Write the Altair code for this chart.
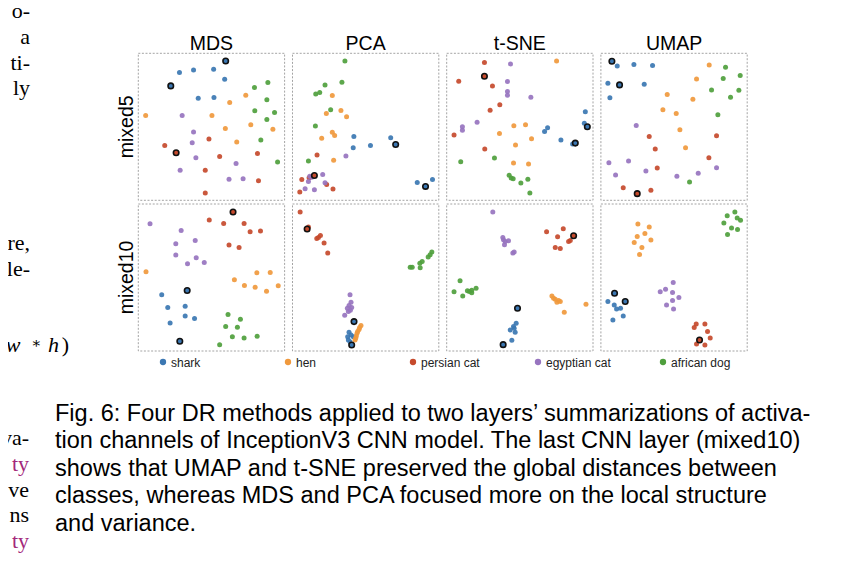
import altair as alt
import pandas as pd

# ---------------- data ----------------
CLASSES = ["shark", "hen", "persian cat", "egyptian cat", "african dog"]
COLORS = ["#3b77b2", "#f0993d", "#c64a2c", "#9774bf", "#4f9f3d"]
METHODS = ["MDS", "PCA", "t-SNE", "UMAP"]
LAYERS = ["mixed5", "mixed10"]

# embedding coordinates (arbitrary units, y grows downward) per class
MDS_MIXED5 = {
    "shark": [(148, 128), (190, 120), (250, 118), (283, 148), (204, 205), (251, 203)],
    "hen": [(47, 257), (245, 257), (298, 218), (346, 196), (285, 296), (361, 285), (319, 337), (427, 298)],
    "persian cat": [(104, 347), (236, 328), (268, 380), (225, 422), (381, 371), (384, 453), (225, 490)],
    "egyptian cat": [(156, 257), (190, 307), (186, 339), (197, 384), (150, 422), (317, 401), (296, 449), (338, 447)],
    "african dog": [(372, 173), (412, 158), (409, 210), (373, 243), (432, 248), (409, 269), (391, 331), (441, 397)],
}
MDS_MIXED5_HL = [("shark", 286, 93), ("shark", 122, 168), ("persian cat", 138, 369)]

PCA_MIXED5 = {
    "shark": [(207, 322), (205, 356), (257, 349), (318, 326), (398, 461), (444, 452)],
    "hen": [(142, 198), (168, 243), (124, 252), (185, 262), (142, 309), (149, 319), (110, 327), (146, 394)],
    "persian cat": [(96, 378), (50, 452), (44, 490), (125, 467), (144, 481), (72, 447)],
    "egyptian cat": [(183, 381), (113, 437), (74, 442), (70, 458), (120, 462), (60, 480), (88, 483), (80, 445)],
    "african dog": [(180, 93), (171, 158), (120, 166), (104, 189), (92, 193), (137, 241), (91, 290), (70, 396)],
}
PCA_MIXED5_HL = [("shark", 333, 346), ("shark", 423, 473), ("persian cat", 88, 440)]

TSNE_MIXED5 = {
    "shark": [(435, 246), (432, 280), (322, 294), (313, 305), (362, 331), (397, 343)],
    "hen": [(349, 93), (221, 288), (256, 285), (178, 311), (274, 327), (226, 346), (220, 400), (265, 403)],
    "persian cat": [(133, 98), (56, 154), (157, 168), (179, 225), (150, 241), (42, 316), (134, 358)],
    "egyptian cat": [(211, 102), (202, 155), (202, 185), (202, 196), (272, 202), (111, 277), (67, 291), (67, 301)],
    "african dog": [(62, 396), (163, 385), (207, 437), (213, 445), (219, 447), (242, 460), (263, 449), (269, 490)],
}
TSNE_MIXED5_HL = [("shark", 441, 291), ("shark", 405, 340), ("persian cat", 133, 139)]

UMAP_MIXED5 = {
    "shark": [(67, 108), (117, 104), (173, 107), (39, 160), (148, 163), (45, 204)],
    "hen": [(343, 105), (305, 147), (217, 194), (294, 208), (204, 240), (244, 251), (255, 300), (272, 354)],
    "persian cat": [(163, 320), (181, 358), (365, 318), (342, 384), (187, 415), (85, 474), (168, 482)],
    "egyptian cat": [(124, 287), (42, 399), (101, 394), (62, 436), (153, 424), (246, 440), (310, 431), (365, 414)],
    "african dog": [(392, 112), (436, 137), (385, 146), (350, 180), (432, 181), (407, 202), (369, 255), (284, 457)],
}
UMAP_MIXED5_HL = [("shark", 51, 94), ("shark", 74, 165), ("persian cat", 127, 492)]

MDS_MIXED10 = {
    "shark": [(95, 290), (113, 328), (165, 324), (165, 353), (193, 361), (120, 374)],
    "hen": [(48, 221), (312, 245), (379, 224), (419, 223), (342, 262), (374, 267), (443, 263), (408, 279)],
    "persian cat": [(237, 66), (280, 76), (341, 76), (359, 101), (390, 99), (296, 141), (326, 148)],
    "egyptian cat": [(60, 77), (153, 97), (195, 127), (137, 137), (137, 171), (198, 179), (172, 197), (222, 193)],
    "african dog": [(293, 349), (330, 363), (286, 385), (321, 387), (306, 415), (341, 419), (380, 414), (268, 439)],
}
MDS_MIXED10_HL = [("shark", 171, 277), ("shark", 149, 429), ("persian cat", 308, 42)]

PCA_MIXED10 = {
    "shark": [(192, 402), (188, 415), (198, 410), (205, 415), (190, 425), (195, 430)],
    "hen": [(228, 382), (224, 388), (222, 394), (218, 400), (216, 405), (214, 413), (212, 420), (210, 425)],
    "persian cat": [(45, 42), (70, 87), (95, 121), (100, 118), (106, 112), (117, 135), (128, 165)],
    "egyptian cat": [(195, 290), (198, 312), (200, 328), (192, 322), (187, 330), (196, 336), (190, 340), (179, 351)],
    "african dog": [(441, 162), (436, 170), (430, 177), (412, 190), (405, 195), (382, 207), (376, 207), (406, 209)],
}
PCA_MIXED10_HL = [("shark", 207, 370), ("shark", 200, 440), ("persian cat", 66, 93)]

TSNE_MIXED10 = {
    "shark": [(228, 375), (222, 390), (220, 385), (210, 395), (225, 402), (215, 426)],
    "hen": [(335, 293), (340, 300), (345, 303), (350, 312), (355, 307), (360, 310), (437, 318), (372, 342)],
    "persian cat": [(319, 101), (369, 92), (352, 116), (390, 127), (385, 130), (345, 148), (360, 151)],
    "egyptian cat": [(158, 42), (188, 118), (190, 125), (205, 128), (195, 130), (193, 140), (218, 165), (222, 162)],
    "african dog": [(60, 248), (42, 281), (68, 293), (82, 278), (88, 280), (95, 284), (95, 276), (108, 270)],
}
TSNE_MIXED10_HL = [("shark", 232, 330), ("shark", 189, 439), ("persian cat", 400, 113)]

UMAP_MIXED10 = {
    "shark": [(39, 310), (58, 320), (65, 332), (77, 330), (85, 353), (54, 365)],
    "hen": [(129, 78), (163, 87), (150, 106), (127, 115), (168, 126), (118, 133), (141, 148), (134, 169)],
    "persian cat": [(304, 377), (330, 377), (298, 388), (338, 400), (346, 419), (305, 437), (330, 440)],
    "egyptian cat": [(235, 253), (212, 273), (196, 281), (233, 283), (252, 298), (233, 307), (215, 320), (236, 332)],
    "african dog": [(420, 42), (397, 53), (427, 60), (437, 67), (387, 75), (410, 90), (428, 94), (398, 109)],
}
UMAP_MIXED10_HL = [("shark", 59, 285), ("shark", 91, 310), ("persian cat", 314, 425)]

# axis limits of every panel: (x min, x max, y top, y bottom)
LIMITS_MIXED5 = [(25, 462, 70, 512), (22, 463, 70, 515), (20, 458, 70, 512), (18, 457, 70, 512)]
LIMITS_MIXED10 = [(25, 462, 18, 458), (22, 462, 18, 458), (20, 458, 18, 458), (18, 457, 18, 458)]

CAPTION = [
    "Fig. 6: Four DR methods applied to two layers\u2019 summarizations of activa-",
    "tion channels of InceptionV3 CNN model. The last CNN layer (mixed10)",
    "shows that UMAP and t-SNE preserved the global distances between",
    "classes, whereas MDS and PCA focused more on the local structure",
    "and variance.",
]
LEFT_TOP = ["o-", "a", "ti-", "ly", "re,", "le-"]
LEFT_BOTTOM_BODY = ["va-", "ve", "ns"]
LEFT_BOTTOM_LINK = ["ty", "ty"]
EQ_ITALIC = ["w", "h"]
LINK_COLOR = "#a3287a"

# ---------------- layout (page pixels minus the 8px margin) ----------------
M = 8
PW, PH = 146.3, 147.0
COL_X = [138.3 + 154.2 * i - M for i in range(4)]
ROW_Y = [53.3 - M, 204.0 - M]
SANS = "Liberation Sans"
SERIF = "Liberation Serif"
LX = 8  # the cut-off neighbour column is nudged right so its glyphs stay inside the page margin

color_scale = alt.Scale(domain=CLASSES, range=COLORS)
page_x = alt.Scale(domain=[0, 846], range=[-M, 846 - M], nice=False, zero=False)

layers = []


def panel(points, hl, lim, row, col):
    L, R, T, B = lim
    x0, y0 = COL_X[col], ROW_Y[row]
    xs = alt.Scale(domain=[L, R], range=[x0, x0 + PW], nice=False, zero=False)
    ys = alt.Scale(domain=[T, B], range=[y0, y0 + PH], nice=False, zero=False)
    fr = pd.DataFrame([{"x": L, "x2": R, "y": T, "y2": B}])
    frame = alt.Chart(fr).mark_rect(
        fill="white", fillOpacity=0, stroke="#9a9a9a", strokeWidth=0.9, strokeDash=[2, 1.6]
    ).encode(
        x=alt.X("x:Q", scale=xs, axis=None), x2="x2:Q",
        y=alt.Y("y:Q", scale=ys, axis=None), y2="y2:Q",
    )
    pts = pd.DataFrame([{"x": x, "y": y, "cls": c} for c, lst in points.items() for (x, y) in lst])
    dots = alt.Chart(pts).mark_circle(size=25, opacity=0.92).encode(
        x=alt.X("x:Q", scale=xs, axis=None),
        y=alt.Y("y:Q", scale=ys, axis=None),
        color=alt.Color("cls:N", scale=color_scale, legend=None),
    )
    hdf = pd.DataFrame([{"x": x, "y": y, "cls": c} for c, x, y in hl])
    hdots = alt.Chart(hdf).mark_circle(size=30, opacity=1, stroke="#111111", strokeWidth=1.6).encode(
        x=alt.X("x:Q", scale=xs, axis=None),
        y=alt.Y("y:Q", scale=ys, axis=None),
        color=alt.Color("cls:N", scale=color_scale, legend=None),
    )
    return [frame, dots, hdots]


PANELS = [
    (MDS_MIXED5, MDS_MIXED5_HL), (PCA_MIXED5, PCA_MIXED5_HL),
    (TSNE_MIXED5, TSNE_MIXED5_HL), (UMAP_MIXED5, UMAP_MIXED5_HL),
    (MDS_MIXED10, MDS_MIXED10_HL), (PCA_MIXED10, PCA_MIXED10_HL),
    (TSNE_MIXED10, TSNE_MIXED10_HL), (UMAP_MIXED10, UMAP_MIXED10_HL),
]
for i, (pts, hl) in enumerate(PANELS):
    row, col = divmod(i, 4)
    lim = (LIMITS_MIXED5 if row == 0 else LIMITS_MIXED10)[col]
    layers += panel(pts, hl, lim, row, col)

# column titles
centers = [c + PW / 2 for c in COL_X]
titles = alt.Chart(pd.DataFrame({"m": METHODS})).mark_text(
    font=SANS, fontSize=19.5, baseline="alphabetic", align="center", color="#000000"
).encode(
    x=alt.X("m:N", scale=alt.Scale(type="point", domain=METHODS, range=[centers[0], centers[3]], padding=0), axis=None),
    y=alt.value(50 - M),
    text="m:N",
)
layers.append(titles)

# row labels
rc = [ROW_Y[0] + PH / 2, ROW_Y[1] + PH / 2]
rows = alt.Chart(pd.DataFrame({"l": LAYERS})).mark_text(
    font=SANS, fontSize=19.5, baseline="alphabetic", align="center", angle=270, color="#000000"
).encode(
    y=alt.Y("l:N", scale=alt.Scale(type="point", domain=LAYERS, range=rc, padding=0), axis=None),
    x=alt.value(132.5 - M),
    text="l:N",
)
layers.append(rows)

# legend
leg_scale = alt.Scale(type="point", domain=CLASSES, range=[163 - M, 663 - M], padding=0)
leg_df = pd.DataFrame({"cls": CLASSES})
leg_dots = alt.Chart(leg_df).mark_circle(size=40, opacity=1).encode(
    x=alt.X("cls:N", scale=leg_scale, axis=None),
    y=alt.value(362 - M),
    color=alt.Color("cls:N", scale=color_scale, legend=None),
)
leg_txt = alt.Chart(leg_df).mark_text(
    font=SANS, fontSize=12, align="left", baseline="middle", dx=8, color="#222222"
).encode(
    x=alt.X("cls:N", scale=leg_scale, axis=None),
    y=alt.value(362.5 - M),
    text="cls:N",
)
layers += [leg_dots, leg_txt]

# caption
cap_df = pd.DataFrame({"i": list(range(len(CAPTION))), "t": CAPTION})
caption = alt.Chart(cap_df).mark_text(
    font=SANS, fontSize=23.5, align="left", baseline="alphabetic", color="#000000"
).encode(
    x=alt.value(55 - M),
    y=alt.Y("i:Q", scale=alt.Scale(domain=[0, 4], range=[420.5 - M, 530.5 - M], nice=False, zero=False), axis=None),
    text="t:N",
)
layers.append(caption)

# cut-off body text of the neighbouring column
top_df = pd.DataFrame({"i": [0, 1, 2, 3, 9, 10], "t": LEFT_TOP})
left_top = alt.Chart(top_df).mark_text(
    font=SERIF, fontSize=22, align="right", baseline="alphabetic", color="#000000"
).encode(
    x=alt.value(22 - M + LX),
    y=alt.Y("i:Q", scale=alt.Scale(domain=[0, 10], range=[18 - M, 276 - M], nice=False, zero=False), axis=None),
    text="t:N",
)
bot_scale = alt.Scale(domain=[0, 4], range=[445 - M, 548 - M], nice=False, zero=False)
left_bot = alt.Chart(pd.DataFrame({"i": [0, 2, 3], "t": LEFT_BOTTOM_BODY})).mark_text(
    font=SERIF, fontSize=22, align="right", baseline="alphabetic", color="#000000"
).encode(
    x=alt.value(21 - M + LX),
    y=alt.Y("i:Q", scale=bot_scale, axis=None),
    text="t:N",
)
left_link = alt.Chart(pd.DataFrame({"i": [1, 4], "t": LEFT_BOTTOM_LINK})).mark_text(
    font=SERIF, fontSize=22, align="right", baseline="alphabetic", color=LINK_COLOR
).encode(
    x=alt.value(21 - M + LX),
    y=alt.Y("i:Q", scale=bot_scale, axis=None),
    text="t:N",
)
eq_it = alt.Chart(pd.DataFrame({"t": EQ_ITALIC, "p": [12.5 + LX, 55 + LX / 2]})).mark_text(
    font=SERIF, fontSize=22, fontStyle="italic", align="right", baseline="alphabetic", color="#000000"
).encode(
    x=alt.X("p:Q", scale=page_x, axis=None),
    y=alt.value(352 - M),
    text="t:N",
)
eq_ast = alt.Chart(pd.DataFrame({"t": ["\u2217"], "p": [30 + LX * 0.75]})).mark_text(
    font="DejaVu Serif", fontSize=15, align="center", baseline="alphabetic", color="#000000"
).encode(
    x=alt.X("p:Q", scale=page_x, axis=None),
    y=alt.value(348 - M),
    text="t:N",
)
eq_par = alt.Chart(pd.DataFrame({"t": [")"], "p": [65 + LX / 2]})).mark_text(
    font=SERIF, fontSize=22, align="right", baseline="alphabetic", color="#000000"
).encode(
    x=alt.X("p:Q", scale=page_x, axis=None),
    y=alt.value(352 - M),
    text="t:N",
)
layers += [left_top, left_bot, left_link, eq_it, eq_ast, eq_par]

chart = alt.layer(*layers).resolve_scale(
    x="independent", y="independent"
).properties(
    width=846, height=553, padding=0, autosize=alt.AutoSizeParams(type="none")
).configure_view(strokeOpacity=0)

chart.save("out.html", embed_options={"renderer": "svg", "actions": False})
